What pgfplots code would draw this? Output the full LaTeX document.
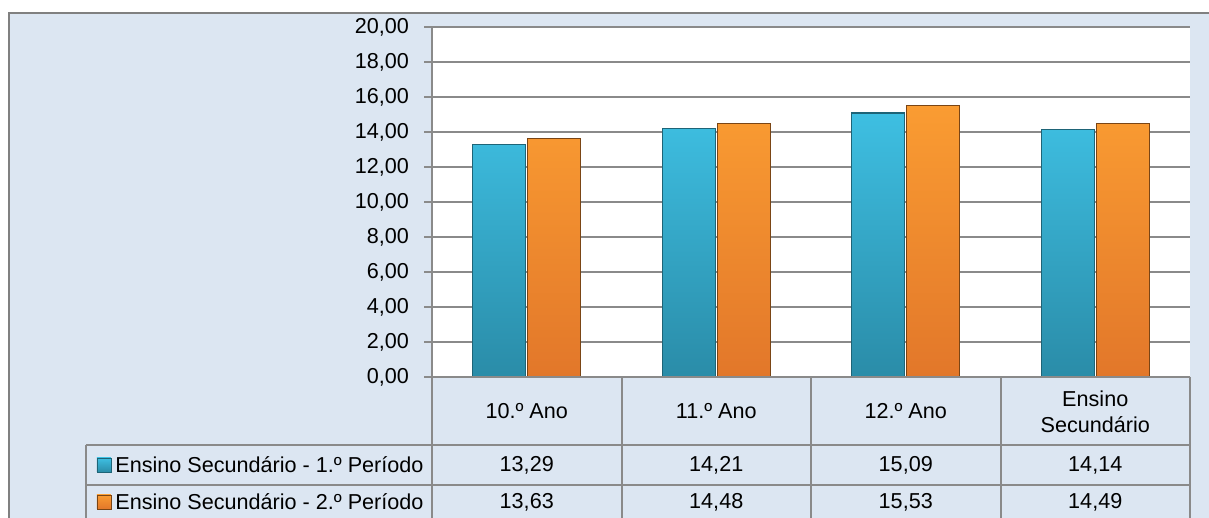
\documentclass[border=0pt]{standalone}
\usepackage{fontspec}
\setmainfont{Liberation Sans}
\usepackage{pgfplots}
\pgfplotsset{compat=1.18}

\definecolor{bgblue}{HTML}{DCE6F2}
\definecolor{framegray}{HTML}{808080}
\definecolor{gridgray}{HTML}{8A8A8A}
\definecolor{blueT}{HTML}{3EBFE2}
\definecolor{blueB}{HTML}{2A8CA8}
\definecolor{blueE}{HTML}{1E6477}
\definecolor{orT}{HTML}{FA9C32}
\definecolor{orB}{HTML}{E2772A}
\definecolor{orE}{HTML}{7A4515}

\begin{document}
\begin{tikzpicture}[x=1pt,y=1pt,font=\fontsize{10.8}{13}\selectfont]
\useasboundingbox (-216,-70.5) rectangle (388.5,188.5);
\filldraw[fill=bgblue,draw=framegray,line width=1pt] (-211.5,182) rectangle (400,-90);

\begin{axis}[
    at={(0,0)}, anchor=south west,
    scale only axis, width=379pt, height=175pt,
    xmin=-0.5, xmax=3.5, ymin=0, ymax=20,
    ytick={0,2,...,20}, xtick=\empty,
    axis lines*=left,
    axis line style={gridgray,line width=0.75pt},
    ymajorgrids, grid style={gridgray,line width=0.75pt},
    tick align=outside, major tick length=4pt,
    ytick style={gridgray,line width=0.75pt},
    /pgf/number format/assume math mode=true,
    /pgf/number format/use comma,
    /pgf/number format/fixed,
    /pgf/number format/fixed zerofill,
    /pgf/number format/precision=2,
    yticklabel style={xshift=-4pt},
    axis background/.style={fill=white},
    ybar=1pt, bar width=26.5pt,
    clip=false,
]
\addplot[draw=blueE, top color=blueT, bottom color=blueB, line width=0.7pt]
    coordinates {(0,13.29) (1,14.21) (2,15.09) (3,14.14)};
\addplot[draw=orE, top color=orT, bottom color=orB, line width=0.7pt]
    coordinates {(0,13.63) (1,14.48) (2,15.53) (3,14.49)};
\end{axis}

% data table below the axis
\begin{scope}[gridgray, line width=1pt]
\foreach \x in {0,94.75,189.5,284.25,379} \draw (\x,0) -- (\x,-80);
\draw (0,0) -- (379,0);
\draw (-173,-34) -- (379,-34);
\draw (-173,-54) -- (379,-54);
\draw (-173,-34) -- (-173,-80);
\end{scope}

\node at (47.375,-17) {10.º Ano};
\node at (142.125,-17) {11.º Ano};
\node at (236.875,-17) {12.º Ano};
\node[align=center] at (331.625,-17.5) {Ensino\\Secundário};

\node at (47.375,-44) {13,29};
\node at (142.125,-44) {14,21};
\node at (236.875,-44) {15,09};
\node at (331.625,-44) {14,14};
\node at (47.375,-62.5) {13,63};
\node at (142.125,-62.5) {14,48};
\node at (236.875,-62.5) {15,53};
\node at (331.625,-62.5) {14,49};

\shade[top color=blueT,bottom color=blueB,draw=blueE,line width=0.4pt] (-167.5,-47.5) rectangle (-160.5,-40.5);
\shade[top color=orT,bottom color=orB,draw=orE,line width=0.4pt] (-167.5,-66) rectangle (-160.5,-59);
\node[anchor=west,inner sep=0pt] at (-158.5,-44) {Ensino Secundário - 1.º Período};
\node[anchor=west,inner sep=0pt] at (-158.5,-62.5) {Ensino Secundário - 2.º Período};
\end{tikzpicture}
\end{document}
